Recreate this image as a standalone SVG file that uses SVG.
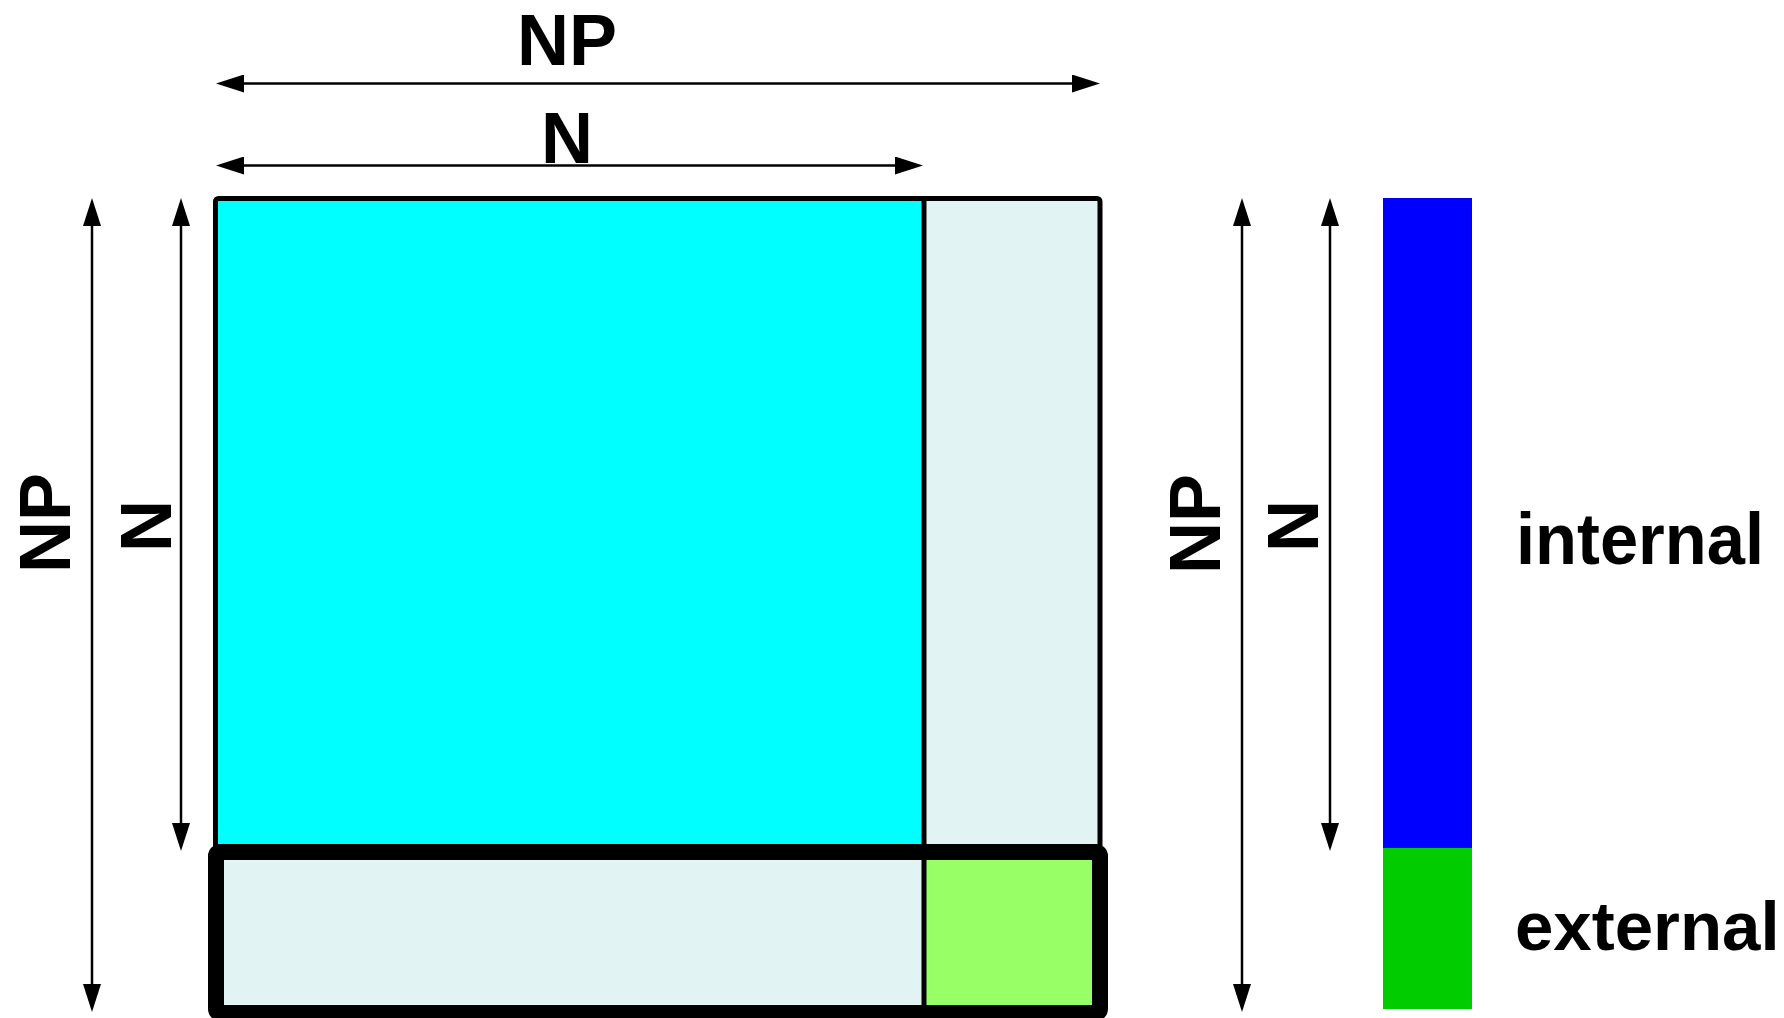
<svg xmlns="http://www.w3.org/2000/svg" width="1784" height="1018" viewBox="0 0 1784 1018">
  <style>
    .lbl { font-family: "Liberation Sans", Arial, Helvetica, sans-serif; font-weight: bold; font-size: 72px; fill: #000; }
    .dim { stroke: #000; stroke-width: 2.5; fill: none; marker-start: url(#ah); marker-end: url(#ah); }
    .thin { fill: none; stroke: #000; stroke-width: 5; stroke-linejoin: round; }
    .thick { fill: none; stroke: #000; stroke-width: 16; stroke-linejoin: round; }
  </style>
  <defs>
    <marker id="ah" markerUnits="userSpaceOnUse" markerWidth="28" markerHeight="18" viewBox="0 0 28 18" refX="18" refY="9" orient="auto-start-reverse">
      <path d="M0,0 L28,9 L0,18 z" fill="#000"/>
    </marker>
  </defs>
  <rect width="1784" height="1018" fill="#fff"/>

  <g id="matrix">
    <g id="cell-internal"><rect x="215.5" y="198.5" width="708.5" height="653.5" fill="#00FFFF"/></g>
    <g id="cell-upper-right"><rect x="924" y="198.5" width="176" height="653.5" fill="#E2F3F3"/></g>
    <g id="cell-lower-left"><rect x="216" y="852" width="708" height="161" fill="#E2F3F3"/></g>
    <g id="cell-external"><rect x="924" y="852" width="176" height="161" fill="#99FF66"/></g>
    <rect class="thin" x="215.5" y="198.5" width="884.5" height="653.5" rx="3"/>
    <line x1="924" y1="198.5" x2="924" y2="1013" stroke="#000" stroke-width="5"/>
    <rect class="thick" x="216" y="852" width="884" height="161" rx="4"/>
  </g>

  <g id="legend">
    <g id="legend-internal">
      <rect x="1383" y="198" width="89" height="650" fill="#0000FF"/>
      <text class="lbl" x="1516" y="564" textLength="248" lengthAdjust="spacingAndGlyphs">internal</text>
    </g>
    <g id="legend-external">
      <rect x="1383" y="848" width="89" height="161" fill="#00CC00"/>
      <text class="lbl" x="1515" y="950" style="font-size:69px">external</text>
    </g>
  </g>

  <g id="connectors">
    <line class="dim" x1="226" y1="83.5" x2="1090" y2="83.5"/>
    <line class="dim" x1="226" y1="165.5" x2="913" y2="165.5"/>
    <line class="dim" x1="92" y1="208" x2="92" y2="1002"/>
    <line class="dim" x1="181" y1="208" x2="181" y2="841"/>
    <line class="dim" x1="1242" y1="208" x2="1242" y2="1002"/>
    <line class="dim" x1="1330" y1="208" x2="1330" y2="841"/>
  </g>

  <g id="labels">
    <text class="lbl" x="567" y="65" text-anchor="middle">NP</text>
    <text class="lbl" x="567" y="163" text-anchor="middle">N</text>
    <text class="lbl" text-anchor="middle" transform="translate(70,523) rotate(-90)">NP</text>
    <text class="lbl" text-anchor="middle" transform="translate(171,526) rotate(-90)">N</text>
    <text class="lbl" text-anchor="middle" transform="translate(1220,524) rotate(-90)">NP</text>
    <text class="lbl" text-anchor="middle" transform="translate(1318,526) rotate(-90)">N</text>
  </g>
</svg>
